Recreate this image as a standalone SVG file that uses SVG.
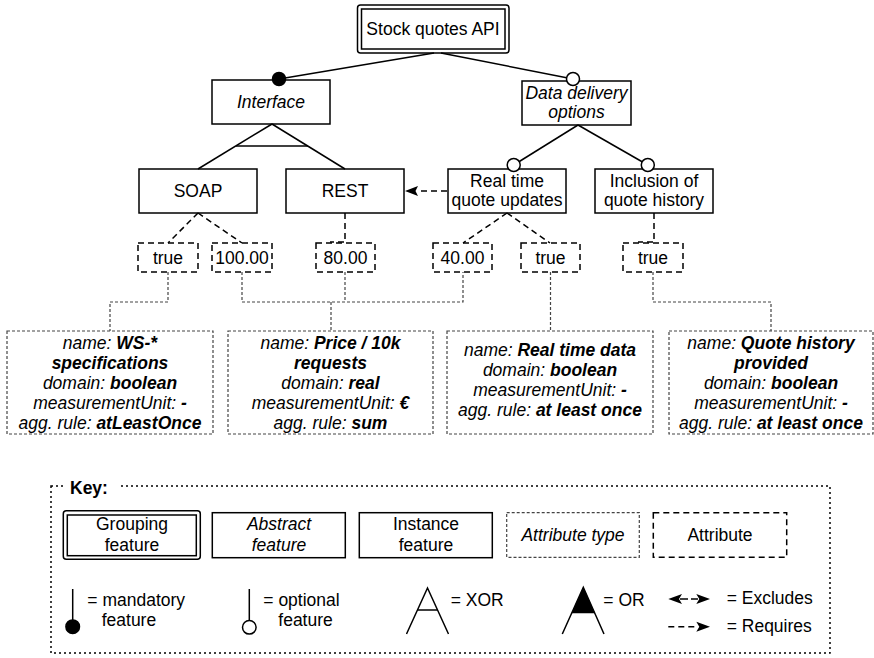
<svg xmlns="http://www.w3.org/2000/svg" width="874" height="658" viewBox="0 0 874 658">
  <style>
    .feat { fill: #fff; stroke: #000; stroke-width: 1.5; }
    .inner { fill: none; stroke: #000; stroke-width: 1.5; }
    .attr { fill: #fff; stroke: #000; stroke-width: 1.5; stroke-dasharray: 6 4; }
    .atype { fill: #fff; stroke: #444; stroke-width: 1.2; stroke-dasharray: 3 2; }
    .ln { fill: none; stroke: #000; stroke-width: 1.5; }
    .dash { fill: none; stroke: #000; stroke-width: 1.5; stroke-dasharray: 6 4; }
    .fine { fill: none; stroke: #444; stroke-width: 1.2; stroke-dasharray: 3 2; }
    .opt { fill: #fff; stroke: #000; stroke-width: 1.5; }
    .man { fill: #000; stroke: #000; stroke-width: 1.5; }
    .head { fill: #000; stroke: none; }
    text { font-family: "Liberation Sans", Arial, sans-serif; font-size: 17.5px; fill: #000; }
    .c { text-anchor: middle; }
    .i { font-style: italic; }
    .b { font-weight: bold; font-style: italic; }
  </style>

  <!-- features -->
  <g id="stock-quotes-api">
    <rect class="feat" x="357.5" y="5" width="151.5" height="48" rx="3"/>
    <rect class="inner" x="361.5" y="9" width="143.5" height="40"/>
    <text class="c" x="433" y="35">Stock quotes API</text>
  </g>
  <g id="interface">
    <rect class="feat" x="212" y="80" width="118" height="44"/>
    <text class="c i" x="271" y="108">Interface</text>
  </g>
  <g id="data-delivery-options">
    <rect class="feat" x="522" y="81" width="109" height="44"/>
    <text class="c i" x="576.5" y="98.5">Data delivery</text>
    <text class="c i" x="576.5" y="117.5">options</text>
  </g>
  <g id="soap">
    <rect class="feat" x="139" y="169" width="118" height="44"/>
    <text class="c" x="198" y="196.5">SOAP</text>
  </g>
  <g id="rest">
    <rect class="feat" x="286" y="169" width="118" height="44"/>
    <text class="c" x="345" y="196.5">REST</text>
  </g>
  <g id="real-time-quote-updates">
    <rect class="feat" x="448" y="169" width="118" height="44"/>
    <text class="c" x="507" y="186.5">Real time</text>
    <text class="c" x="507" y="205.5">quote updates</text>
  </g>
  <g id="inclusion-of-quote-history">
    <rect class="feat" x="595" y="169" width="118" height="44"/>
    <text class="c" x="654" y="186.5">Inclusion of</text>
    <text class="c" x="654" y="205.5">quote history</text>
  </g>

  <!-- attributes -->
  <g id="attr-soap-true">
    <rect class="attr" x="138" y="243" width="60" height="29"/>
    <text class="c" x="168" y="263.5">true</text>
  </g>
  <g id="attr-soap-price">
    <rect class="attr" x="212" y="243" width="60" height="29"/>
    <text class="c" x="242" y="263.5">100.00</text>
  </g>
  <g id="attr-rest-price">
    <rect class="attr" x="316" y="243" width="59" height="29"/>
    <text class="c" x="345.5" y="263.5">80.00</text>
  </g>
  <g id="attr-rt-price">
    <rect class="attr" x="433" y="243" width="59" height="29"/>
    <text class="c" x="462.5" y="263.5">40.00</text>
  </g>
  <g id="attr-rt-true">
    <rect class="attr" x="521" y="243" width="59" height="29"/>
    <text class="c" x="550.5" y="263.5">true</text>
  </g>
  <g id="attr-history-true">
    <rect class="attr" x="623" y="243" width="60" height="29"/>
    <text class="c" x="653" y="263.5">true</text>
  </g>

  <!-- attribute types -->
  <g id="type-ws">
    <rect class="atype" x="7" y="331" width="206" height="103"/>
    <text class="c" x="110" y="349"><tspan class="i">name: </tspan><tspan class="b">WS-*</tspan></text>
    <text class="c b" x="110" y="369">specifications</text>
    <text class="c" x="110" y="389"><tspan class="i">domain: </tspan><tspan class="b">boolean</tspan></text>
    <text class="c" x="110" y="409"><tspan class="i">measurementUnit: </tspan><tspan class="b">-</tspan></text>
    <text class="c" x="110" y="428.5"><tspan class="i">agg. rule: </tspan><tspan class="b">atLeastOnce</tspan></text>
  </g>
  <g id="type-price">
    <rect class="atype" x="228" y="331" width="205" height="103"/>
    <text class="c" x="330.5" y="349"><tspan class="i">name: </tspan><tspan class="b">Price / 10k</tspan></text>
    <text class="c b" x="330.5" y="369">requests</text>
    <text class="c" x="330.5" y="389"><tspan class="i">domain: </tspan><tspan class="b">real</tspan></text>
    <text class="c" x="330.5" y="409"><tspan class="i">measurementUnit: </tspan><tspan class="b">€</tspan></text>
    <text class="c" x="330.5" y="428.5"><tspan class="i">agg. rule: </tspan><tspan class="b">sum</tspan></text>
  </g>
  <g id="type-realtime">
    <rect class="atype" x="447" y="331" width="206" height="103"/>
    <text class="c" x="550" y="355.5"><tspan class="i">name: </tspan><tspan class="b">Real time data</tspan></text>
    <text class="c" x="550" y="375.5"><tspan class="i">domain: </tspan><tspan class="b">boolean</tspan></text>
    <text class="c" x="550" y="395.5"><tspan class="i">measurementUnit: </tspan><tspan class="b">-</tspan></text>
    <text class="c" x="550" y="415.5"><tspan class="i">agg. rule: </tspan><tspan class="b">at least once</tspan></text>
  </g>
  <g id="type-history">
    <rect class="atype" x="669" y="331" width="204" height="103"/>
    <text class="c" x="771" y="349"><tspan class="i">name: </tspan><tspan class="b">Quote history</tspan></text>
    <text class="c b" x="771" y="369">provided</text>
    <text class="c" x="771" y="389"><tspan class="i">domain: </tspan><tspan class="b">boolean</tspan></text>
    <text class="c" x="771" y="409"><tspan class="i">measurementUnit: </tspan><tspan class="b">-</tspan></text>
    <text class="c" x="771" y="428.5"><tspan class="i">agg. rule: </tspan><tspan class="b">at least once</tspan></text>
  </g>

  <!-- connectors, drawn over the node borders so the end markers stay visible -->
  <g id="connectors">
    <!-- root to children -->
    <line class="ln" x1="434" y1="53" x2="279" y2="79"/>
    <line class="ln" x1="441" y1="53" x2="573" y2="79"/>
    <!-- Interface XOR group -->
    <line class="ln" x1="272" y1="124" x2="198" y2="169"/>
    <line class="ln" x1="272" y1="124" x2="345" y2="169"/>
    <line class="ln" x1="236" y1="146" x2="308" y2="146"/>
    <!-- Data delivery options children -->
    <line class="ln" x1="578" y1="125" x2="513.7" y2="165"/>
    <line class="ln" x1="578" y1="125" x2="647.8" y2="165"/>
    <!-- requires: Real time quote updates -> REST -->
    <line class="dash" x1="447" y1="191" x2="417" y2="191"/>
    <polygon class="head" points="405,191 418,186 415.5,191 418,196"/>
    <!-- features to attributes -->
    <line class="dash" x1="198" y1="213" x2="168" y2="243"/>
    <line class="dash" x1="198" y1="213" x2="242" y2="243"/>
    <polyline class="dash" points="345,213 345,242 330,242"/>
    <line class="dash" x1="507" y1="213" x2="463" y2="243"/>
    <line class="dash" x1="507" y1="213" x2="550" y2="243"/>
    <polyline class="dash" points="654,213 654,242 638,242"/>
    <!-- attributes to attribute types -->
    <polyline class="fine" points="168,272 168,302 110,302 110,331"/>
    <polyline class="fine" points="242,272 242,302 463,302 463,272"/>
    <line class="fine" x1="345" y1="272" x2="345" y2="302"/>
    <line class="fine" x1="331" y1="302" x2="331" y2="331"/>
    <line class="fine" x1="550.5" y1="272" x2="550.5" y2="331"/>
    <polyline class="fine" points="653,272 653,302 771,302 771,331"/>
    <!-- cardinality markers -->
    <circle class="man" cx="279" cy="79" r="6.5"/>
    <circle class="opt" cx="573" cy="79" r="6.5"/>
    <circle class="opt" cx="513.7" cy="165" r="6.5"/>
    <circle class="opt" cx="647.8" cy="165" r="6.5"/>
  </g>

  <!-- legend -->
  <g id="key">
    <rect x="51" y="486" width="779" height="167" fill="none" stroke="#000" stroke-width="1.5" stroke-dasharray="2 3"/>
    <rect x="63" y="476" width="56" height="20" fill="#fff"/>
    <text x="70" y="493.5" font-weight="bold">Key:</text>

    <rect class="feat" x="63.3" y="510.7" width="137" height="48.6" rx="3"/>
    <rect class="inner" x="67.3" y="515" width="129" height="40.7"/>
    <text class="c" x="132" y="530">Grouping</text>
    <text class="c" x="132" y="550.7">feature</text>

    <rect class="feat" x="212.3" y="512.7" width="133" height="45"/>
    <text class="c i" x="279" y="530">Abstract</text>
    <text class="c i" x="279" y="550.7">feature</text>

    <rect class="feat" x="359.3" y="512.7" width="133" height="45"/>
    <text class="c" x="426" y="530">Instance</text>
    <text class="c" x="426" y="550.7">feature</text>

    <rect class="atype" x="506.7" y="512.7" width="132.6" height="44.6"/>
    <text class="c i" x="573" y="540.7">Attribute type</text>

    <rect class="attr" x="653.3" y="512.7" width="133.4" height="44.6"/>
    <text class="c" x="720" y="540.7">Attribute</text>

    <!-- mandatory -->
    <line class="ln" x1="72.7" y1="589" x2="72.7" y2="620"/>
    <circle class="man" cx="72.7" cy="626.7" r="6.8"/>
    <text x="87.3" y="605.7">= mandatory</text>
    <text x="101.7" y="626">feature</text>

    <!-- optional -->
    <line class="ln" x1="249.3" y1="589" x2="249.3" y2="620.5"/>
    <circle class="opt" cx="249.3" cy="627.3" r="6.8"/>
    <text x="263.3" y="605.7">= optional</text>
    <text x="278.3" y="626">feature</text>

    <!-- XOR -->
    <polyline class="ln" points="406.5,634 427.5,588 448.5,634"/>
    <line class="ln" x1="417.5" y1="610" x2="437.5" y2="610"/>
    <text x="450.7" y="605.7">= XOR</text>

    <!-- OR -->
    <polyline class="ln" points="562.3,634 583.3,587.3 604,634"/>
    <polygon fill="#000" points="583.3,587.3 571.6,613.3 595,613.3"/>
    <text x="603.3" y="605.7">= OR</text>

    <!-- excludes -->
    <polygon class="head" points="668.3,599 682,594 679,599 682,604"/>
    <line class="ln" x1="680" y1="599" x2="688" y2="599"/>
    <line class="ln" x1="691" y1="599" x2="698" y2="599"/>
    <polygon class="head" points="710,599 696.3,594 699.3,599 696.3,604"/>
    <text x="726.7" y="604">= Excludes</text>

    <!-- requires -->
    <line class="dash" x1="668.3" y1="626.7" x2="698" y2="626.7"/>
    <polygon class="head" points="710,626.7 696.3,621.7 699.3,626.7 696.3,631.7"/>
    <text x="726.7" y="631.7">= Requires</text>
  </g>
</svg>
